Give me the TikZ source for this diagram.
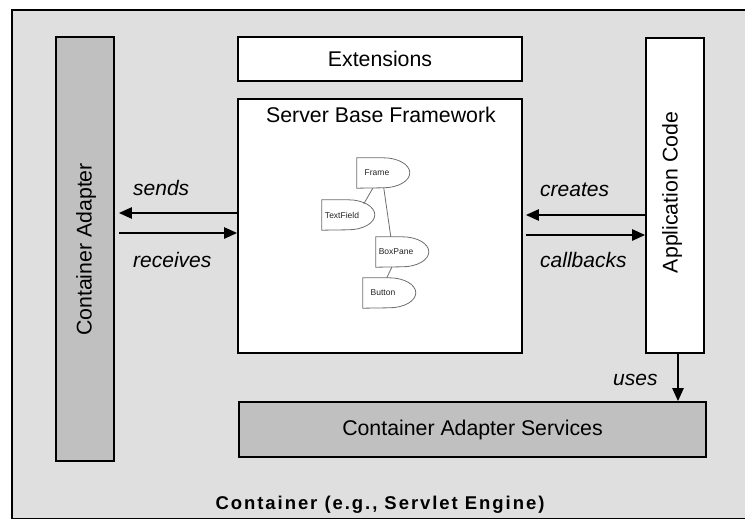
\documentclass[tikz,border=0pt]{standalone}
\usepackage{fontspec}
\setmainfont{Liberation Sans}
\newfontfamily\spacedbold[LetterSpace=10.5]{Liberation Sans}
\usetikzlibrary{arrows.meta,calc}
\definecolor{outerbg}{HTML}{DFDFDF}
\definecolor{boxgray}{HTML}{C0C0C0}
\definecolor{linkgray}{HTML}{6E6E6E}
\definecolor{comptext}{HTML}{222222}
\tikzset{
  box/.style={draw=black, line width=1.6, inner sep=0, rectangle},
  lbl/.style={font=\fontsize{21.3}{24}\selectfont, inner sep=0},
  itl/.style={font=\fontsize{21}{24}\selectfont\itshape, anchor=base west, inner sep=0},
  arr/.style={line width=2.3, -{Triangle[length=13,width=11]}},
  comp/.style={rectangle, minimum width=40, minimum height=30, inner sep=0, font=\fontsize{8.5}{10}\selectfont, text=comptext},
  link/.style={draw=linkgray, line width=0.8},
}
\begin{document}
\begin{tikzpicture}[x=1pt,y=-1pt]
\useasboundingbox (0,0) rectangle (745,519);
\fill[white] (0,0) rectangle (745,519);
% outer container
\node[box, fill=outerbg, minimum width=800, minimum height=509, anchor=north west] (container) at (11,9) {};
\node[font=\fontsize{18.5}{20}\selectfont\spacedbold\bfseries, anchor=base, inner sep=0] (containerlbl) at (380,509.5) {Container (e.g., Servlet Engine)};
% main boxes
\node[box, fill=boxgray, minimum width=58, minimum height=424] (ca) at (85,249) {};
\node[lbl, rotate=90] (calbl) at (86,249.5) {Container Adapter};
\node[box, fill=white, minimum width=284, minimum height=44] (ext) at (380,59) {};
\node[lbl] (extlbl) at (ext.center) {Extensions};
\node[box, fill=white, minimum width=284, minimum height=254] (sbf) at (380,226) {};
\node[lbl, anchor=base] (sbflbl) at (381,123) {Server Base Framework};
\node[box, fill=white, minimum width=58, minimum height=315] (app) at (675,195.5) {};
\node[lbl, rotate=90] (applbl) at (672,192.5) {Application Code};
\node[box, fill=boxgray, minimum width=467, minimum height=55] (svc) at (472.5,429.5) {};
\node[lbl] (svclbl) at (svc.center) {Container Adapter Services};
% inner component diagram
\node[comp] (frame) at (377,173) {Frame};
\node[comp] (textfield) at (342,215) {TextField};
\node[comp] (boxpane) at (396,252) {BoxPane};
\node[comp] (button) at (383,293) {Button};
\foreach \n in {frame,textfield,boxpane,button}
  \draw[linkgray, line width=0.8] (\n.north west) -- ++(26.5,0) arc(-90:90:26.5 and 15) -- (\n.south west) -- cycle;
\draw[link] ([xshift=16]frame.south west) -- ([xshift=42,yshift=-4]textfield.north west);
\draw[link] ([xshift=27]frame.south west) -- ([xshift=15]boxpane.north west);
\draw[link] ([xshift=16]boxpane.south west) -- ([xshift=24]button.north west);
% arrows
\coordinate (s1) at ([yshift=13]sbf.west);
\coordinate (r1) at ([yshift=-7]sbf.west);
\coordinate (c1) at ([yshift=11]sbf.east);
\coordinate (k1) at ([yshift=-9]sbf.east);
\coordinate (u1) at ([xshift=3]app.south);
\draw[arr, shorten >=4] (s1) -- (s1 -| ca.east);
\draw[arr, shorten <=4] (r1 -| ca.east) -- (r1);
\draw[arr, shorten >=3] (c1 -| app.west) -- (c1);
\draw[arr, shorten <=3] (k1) -- (k1 -| app.west);
\draw[arr] (u1) -- (u1 |- svc.north);
% labels
\node[itl] (sendslbl) at (133,195) {sends};
\node[itl] (receiveslbl) at (133,267) {receives};
\node[itl] (createslbl) at (540,196) {creates};
\node[itl] (callbackslbl) at (540,267) {callbacks};
\node[itl] (useslbl) at (613,385) {uses};
\end{tikzpicture}
\end{document}
